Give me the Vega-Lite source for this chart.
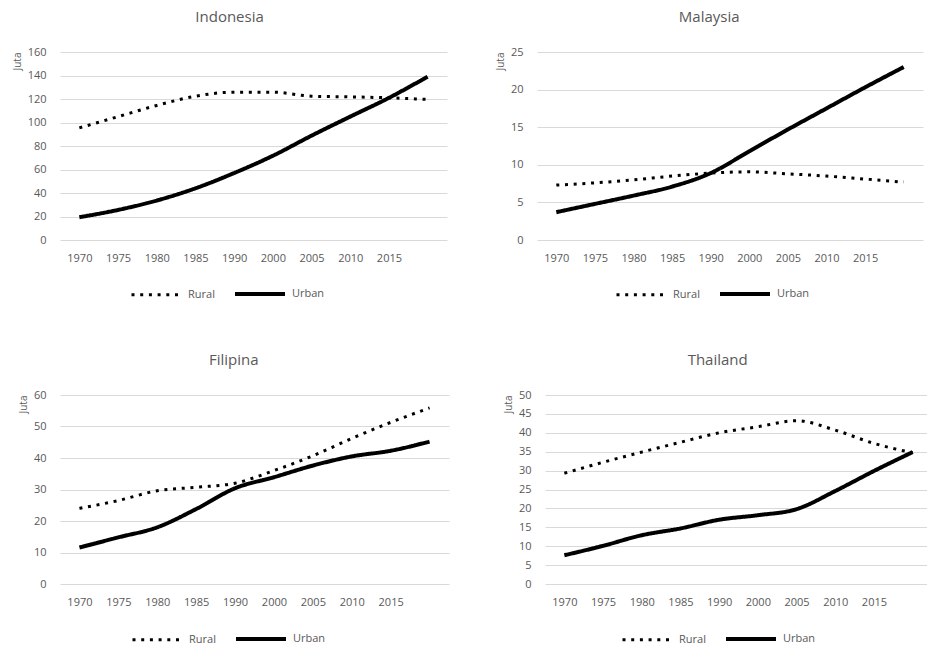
{
  "$schema": "https://vega.github.io/schema/vega-lite/v6.json",
  "background": "white",
  "padding": {"left": 12, "top": 10, "right": 0, "bottom": 0},
  "data": {"values": [
    {"country": "Indonesia", "type": "Rural", "year": "1970", "value": 95.4},
    {"country": "Indonesia", "type": "Rural", "year": "1975", "value": 105},
    {"country": "Indonesia", "type": "Rural", "year": "1980", "value": 114.5},
    {"country": "Indonesia", "type": "Rural", "year": "1985", "value": 122.4},
    {"country": "Indonesia", "type": "Rural", "year": "1990", "value": 125.8},
    {"country": "Indonesia", "type": "Rural", "year": "2000", "value": 125.8},
    {"country": "Indonesia", "type": "Rural", "year": "2005", "value": 122.4},
    {"country": "Indonesia", "type": "Rural", "year": "2010", "value": 121.8},
    {"country": "Indonesia", "type": "Rural", "year": "2015", "value": 121},
    {"country": "Indonesia", "type": "Rural", "year": "2020", "value": 119.6},
    {"country": "Indonesia", "type": "Urban", "year": "1970", "value": 19.4},
    {"country": "Indonesia", "type": "Urban", "year": "1975", "value": 25.6},
    {"country": "Indonesia", "type": "Urban", "year": "1980", "value": 33.6},
    {"country": "Indonesia", "type": "Urban", "year": "1985", "value": 44},
    {"country": "Indonesia", "type": "Urban", "year": "1990", "value": 57},
    {"country": "Indonesia", "type": "Urban", "year": "2000", "value": 71.7},
    {"country": "Indonesia", "type": "Urban", "year": "2005", "value": 88.8},
    {"country": "Indonesia", "type": "Urban", "year": "2010", "value": 105},
    {"country": "Indonesia", "type": "Urban", "year": "2015", "value": 121},
    {"country": "Indonesia", "type": "Urban", "year": "2020", "value": 139},
    {"country": "Malaysia", "type": "Rural", "year": "1970", "value": 7.3},
    {"country": "Malaysia", "type": "Rural", "year": "1975", "value": 7.6},
    {"country": "Malaysia", "type": "Rural", "year": "1980", "value": 8.0},
    {"country": "Malaysia", "type": "Rural", "year": "1985", "value": 8.5},
    {"country": "Malaysia", "type": "Rural", "year": "1990", "value": 8.9},
    {"country": "Malaysia", "type": "Rural", "year": "2000", "value": 9.06},
    {"country": "Malaysia", "type": "Rural", "year": "2005", "value": 8.8},
    {"country": "Malaysia", "type": "Rural", "year": "2010", "value": 8.5},
    {"country": "Malaysia", "type": "Rural", "year": "2015", "value": 8.1},
    {"country": "Malaysia", "type": "Rural", "year": "2020", "value": 7.7},
    {"country": "Malaysia", "type": "Urban", "year": "1970", "value": 3.7},
    {"country": "Malaysia", "type": "Urban", "year": "1975", "value": 4.8},
    {"country": "Malaysia", "type": "Urban", "year": "1980", "value": 5.9},
    {"country": "Malaysia", "type": "Urban", "year": "1985", "value": 7.1},
    {"country": "Malaysia", "type": "Urban", "year": "1990", "value": 8.9},
    {"country": "Malaysia", "type": "Urban", "year": "2000", "value": 11.8},
    {"country": "Malaysia", "type": "Urban", "year": "2005", "value": 14.7},
    {"country": "Malaysia", "type": "Urban", "year": "2010", "value": 17.5},
    {"country": "Malaysia", "type": "Urban", "year": "2015", "value": 20.3},
    {"country": "Malaysia", "type": "Urban", "year": "2020", "value": 23.0},
    {"country": "Filipina", "type": "Rural", "year": "1970", "value": 24.0},
    {"country": "Filipina", "type": "Rural", "year": "1975", "value": 26.5},
    {"country": "Filipina", "type": "Rural", "year": "1980", "value": 29.6},
    {"country": "Filipina", "type": "Rural", "year": "1985", "value": 30.7},
    {"country": "Filipina", "type": "Rural", "year": "1990", "value": 32},
    {"country": "Filipina", "type": "Rural", "year": "2000", "value": 36},
    {"country": "Filipina", "type": "Rural", "year": "2005", "value": 40.7},
    {"country": "Filipina", "type": "Rural", "year": "2010", "value": 46.2},
    {"country": "Filipina", "type": "Rural", "year": "2015", "value": 51.3},
    {"country": "Filipina", "type": "Rural", "year": "2020", "value": 55.9},
    {"country": "Filipina", "type": "Urban", "year": "1970", "value": 11.6},
    {"country": "Filipina", "type": "Urban", "year": "1975", "value": 14.8},
    {"country": "Filipina", "type": "Urban", "year": "1980", "value": 18},
    {"country": "Filipina", "type": "Urban", "year": "1985", "value": 23.8},
    {"country": "Filipina", "type": "Urban", "year": "1990", "value": 30.4},
    {"country": "Filipina", "type": "Urban", "year": "2000", "value": 33.9},
    {"country": "Filipina", "type": "Urban", "year": "2005", "value": 37.6},
    {"country": "Filipina", "type": "Urban", "year": "2010", "value": 40.5},
    {"country": "Filipina", "type": "Urban", "year": "2015", "value": 42.3},
    {"country": "Filipina", "type": "Urban", "year": "2020", "value": 45.2},
    {"country": "Thailand", "type": "Rural", "year": "1970", "value": 29.3},
    {"country": "Thailand", "type": "Rural", "year": "1975", "value": 32.2},
    {"country": "Thailand", "type": "Rural", "year": "1980", "value": 34.9},
    {"country": "Thailand", "type": "Rural", "year": "1985", "value": 37.5},
    {"country": "Thailand", "type": "Rural", "year": "1990", "value": 40},
    {"country": "Thailand", "type": "Rural", "year": "2000", "value": 41.6},
    {"country": "Thailand", "type": "Rural", "year": "2005", "value": 43.2},
    {"country": "Thailand", "type": "Rural", "year": "2010", "value": 40.7},
    {"country": "Thailand", "type": "Rural", "year": "2015", "value": 37.2},
    {"country": "Thailand", "type": "Rural", "year": "2020", "value": 34.7},
    {"country": "Thailand", "type": "Urban", "year": "1970", "value": 7.6},
    {"country": "Thailand", "type": "Urban", "year": "1975", "value": 10.1},
    {"country": "Thailand", "type": "Urban", "year": "1980", "value": 12.9},
    {"country": "Thailand", "type": "Urban", "year": "1985", "value": 14.7},
    {"country": "Thailand", "type": "Urban", "year": "1990", "value": 17},
    {"country": "Thailand", "type": "Urban", "year": "2000", "value": 18.2},
    {"country": "Thailand", "type": "Urban", "year": "2005", "value": 19.8},
    {"country": "Thailand", "type": "Urban", "year": "2010", "value": 24.6},
    {"country": "Thailand", "type": "Urban", "year": "2015", "value": 29.9},
    {"country": "Thailand", "type": "Urban", "year": "2020", "value": 34.9}
  ]},
  "spacing": 51,
  "resolve": {"scale": {"strokeDash": "independent", "strokeWidth": "independent", "y": "independent", "x": "independent"}, "legend": {"strokeDash": "independent", "strokeWidth": "independent"}},
  "vconcat": [
    {
      "spacing": 48,
      "resolve": {"scale": {"strokeDash": "independent", "strokeWidth": "independent", "y": "independent", "x": "independent"}, "legend": {"strokeDash": "independent", "strokeWidth": "independent"}},
      "hconcat": [
        {
          "title": "Indonesia",
          "width": 387, "height": 188,
          "transform": [{"filter": "datum.country === 'Indonesia'"}],
          "mark": {"type": "line", "color": "black", "interpolate": "monotone"},
          "encoding": {
            "x": {"field": "year", "type": "ordinal", "axis": {"title": null, "labelAngle": 0, "labelExpr": "datum.value == '2020' ? '' : datum.label"}},
            "y": {"field": "value", "type": "quantitative", "scale": {"domain": [0, 160]}, "axis": {"title": "Juta", "values": [0, 20, 40, 60, 80, 100, 120, 140, 160]}},
            "strokeDash": {"field": "type", "type": "nominal", "scale": {"domain": ["Rural", "Urban"], "range": [[3, 5.7], [1, 0]]}, "legend": {"title": null, "orient": "none", "legendX": 70, "legendY": 215}},
            "strokeWidth": {"field": "type", "type": "ordinal", "scale": {"domain": ["Rural", "Urban"], "range": [3, 4]}, "legend": null}
          }
        },
        {
          "title": "Malaysia",
          "width": 386, "height": 188,
          "transform": [{"filter": "datum.country === 'Malaysia'"}],
          "mark": {"type": "line", "color": "black", "interpolate": "monotone"},
          "encoding": {
            "x": {"field": "year", "type": "ordinal", "axis": {"title": null, "labelAngle": 0, "labelExpr": "datum.value == '2020' ? '' : datum.label"}},
            "y": {"field": "value", "type": "quantitative", "scale": {"domain": [0, 25]}, "axis": {"title": "Juta", "values": [0, 5, 10, 15, 20, 25]}},
            "strokeDash": {"field": "type", "type": "nominal", "scale": {"domain": ["Rural", "Urban"], "range": [[3, 5.7], [1, 0]]}, "legend": {"title": null, "orient": "none", "legendX": 78, "legendY": 215}},
            "strokeWidth": {"field": "type", "type": "ordinal", "scale": {"domain": ["Rural", "Urban"], "range": [3, 4]}, "legend": null}
          }
        }
      ]
    },
    {
      "spacing": 54,
      "resolve": {"scale": {"strokeDash": "independent", "strokeWidth": "independent", "y": "independent", "x": "independent"}, "legend": {"strokeDash": "independent", "strokeWidth": "independent"}},
      "hconcat": [
        {
          "title": "Filipina",
          "width": 389, "height": 189,
          "transform": [{"filter": "datum.country === 'Filipina'"}],
          "mark": {"type": "line", "color": "black", "interpolate": "monotone"},
          "encoding": {
            "x": {"field": "year", "type": "ordinal", "axis": {"title": null, "labelAngle": 0, "labelExpr": "datum.value == '2020' ? '' : datum.label"}},
            "y": {"field": "value", "type": "quantitative", "scale": {"domain": [0, 60]}, "axis": {"title": "Juta", "values": [0, 10, 20, 30, 40, 50, 60]}},
            "strokeDash": {"field": "type", "type": "nominal", "scale": {"domain": ["Rural", "Urban"], "range": [[3, 5.7], [1, 0]]}, "legend": {"title": null, "orient": "none", "legendX": 71, "legendY": 217}},
            "strokeWidth": {"field": "type", "type": "ordinal", "scale": {"domain": ["Rural", "Urban"], "range": [3, 4]}, "legend": null}
          }
        },
        {
          "title": "Thailand",
          "width": 387, "height": 189,
          "transform": [{"filter": "datum.country === 'Thailand'"}],
          "mark": {"type": "line", "color": "black", "interpolate": "monotone"},
          "encoding": {
            "x": {"field": "year", "type": "ordinal", "axis": {"title": null, "labelAngle": 0, "labelExpr": "datum.value == '2020' ? '' : datum.label"}},
            "y": {"field": "value", "type": "quantitative", "scale": {"domain": [0, 50]}, "axis": {"title": "Juta", "values": [0, 5, 10, 15, 20, 25, 30, 35, 40, 45, 50]}},
            "strokeDash": {"field": "type", "type": "nominal", "scale": {"domain": ["Rural", "Urban"], "range": [[3, 5.7], [1, 0]]}, "legend": {"title": null, "orient": "none", "legendX": 76, "legendY": 217}},
            "strokeWidth": {"field": "type", "type": "ordinal", "scale": {"domain": ["Rural", "Urban"], "range": [3, 4]}, "legend": null}
          }
        }
      ]
    }
  ],
  "config": {
    "font": "Open Sans",
    "view": {"stroke": null},
    "axis": {"labelColor": "#595959", "labelFontSize": 11, "titleColor": "#595959", "titleFontSize": 10, "titleFontWeight": "normal", "gridColor": "#d9d9d9", "domain": false, "ticks": false},
    "axisY": {"titleAnchor": "end", "titlePadding": 5, "labelPadding": 14},
    "axisX": {"labelPadding": 12, "grid": false},
    "title": {"fontSize": 15, "fontWeight": "normal", "color": "#595959", "frame": "bounds", "offset": 21, "anchor": "middle"},
    "legend": {
      "direction": "horizontal", "symbolType": "stroke", "symbolSize": 2500,
      "symbolStrokeWidth": 3.5, "symbolStrokeColor": "black", "labelFontSize": 11, "labelColor": "#595959",
      "columnPadding": 12, "labelOffset": 5
    }
  }
}
